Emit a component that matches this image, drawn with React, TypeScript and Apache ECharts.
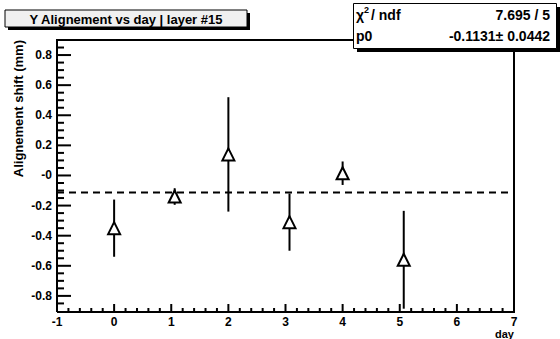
import { useEffect, useRef } from "react";
import * as echarts from "echarts";

// ---- data ----
const days = [0, 1.06, 2, 3.07, 4, 5.07];
const shifts = [-0.35, -0.14, 0.14, -0.31, 0.015, -0.56];
const errors = [0.19, 0.055, 0.38, 0.19, 0.078, 0.325];
const fitP0 = -0.1131;
const fitText = ["7.695 / 5", "-0.1131\u00b1 0.0442"];
const xRange = [-1, 7];
const yRange = [-0.907, 0.9];
const xTickValues = [-1, 0, 1, 2, 3, 4, 5, 6, 7];
const xTickLabels = ["-1", "0", "1", "2", "3", "4", "5", "6", "7"];
const xMinorPerMajor = 5;
const yTickValues = [-0.8, -0.6, -0.4, -0.2, 0, 0.2, 0.4, 0.6, 0.8];
const yTickLabels = ["-0.8", "-0.6", "-0.4", "-0.2", "-0", "0.2", "0.4", "0.6", "0.8"];
const yMinorValues = [
  -0.85, -0.75, -0.7, -0.65, -0.55, -0.5, -0.45, -0.35, -0.3, -0.25, -0.15, -0.1, -0.05,
  0.05, 0.1, 0.15, 0.25, 0.3, 0.35, 0.45, 0.5, 0.55, 0.65, 0.7, 0.75, 0.85,
];

const FONT = "'Liberation Sans', Arial, Helvetica, sans-serif";
const G = { left: 57, top: 40, width: 457, height: 272 };

export default function App() {
  const ref = useRef<HTMLDivElement>(null);
  useEffect(() => {
    if (!ref.current) return;
    const chart = echarts.init(ref.current, undefined, { renderer: "svg" });
    const labelStyle = { color: "#000", fontFamily: FONT, fontWeight: "bold" as const, fontSize: 12 };

    // frame + ticks, built from the axis scales inside the point series
    const axisDecor = (api: any) => {
      const out: any[] = [];
      const bl = api.coord([xRange[0], yRange[0]]);
      const tr = api.coord([xRange[1], yRange[1]]);
      out.push({
        type: "polyline",
        shape: { points: [[bl[0], bl[1]], [bl[0], tr[1]], [tr[0], tr[1]], [tr[0], bl[1]], [bl[0], bl[1]]] },
        style: { fill: "none", stroke: "#000", lineWidth: 2 },
      });
      const addX = (v: number, len: number) => {
        const p = api.coord([v, yRange[0]]);
        out.push({ type: "line", shape: { x1: p[0], y1: p[1], x2: p[0], y2: p[1] - len }, style: { stroke: "#000", lineWidth: 2 } });
      };
      const addY = (v: number, len: number) => {
        const p = api.coord([xRange[0], v]);
        out.push({ type: "line", shape: { x1: p[0], y1: p[1], x2: p[0] + len, y2: p[1] }, style: { stroke: "#000", lineWidth: 2 } });
      };
      xTickValues.forEach((v, i) => {
        addX(v, 8);
        if (i < xTickValues.length - 1) {
          const step = (xTickValues[i + 1] - v) / xMinorPerMajor;
          for (let k = 1; k < xMinorPerMajor; k++) addX(v + k * step, 4);
        }
      });
      yTickValues.forEach((v) => addY(v, 14));
      yMinorValues.forEach((v) => addY(v, 7));
      return out;
    };

    chart.setOption({
      animation: false,
      backgroundColor: "#fff",
      grid: { ...G, show: true, borderColor: "#000", borderWidth: 1, backgroundColor: "transparent" },
      xAxis: {
        type: "value",
        min: xRange[0],
        max: xRange[1],
        interval: 1,
        axisLine: { show: false },
        axisTick: { show: false },
        minorTick: { show: false },
        splitLine: { show: false },
        axisLabel: {
          ...labelStyle,
          margin: 4,
          formatter: (v: number) => xTickLabels[xTickValues.indexOf(Math.round(v))] ?? "",
        },
      },
      yAxis: {
        type: "value",
        min: yRange[0],
        max: yRange[1],
        axisLine: { show: false },
        axisTick: { show: false },
        splitLine: { show: false },
        axisLabel: {
          ...labelStyle,
          margin: 5,
          customValues: yTickValues,
          formatter: (v: number) => {
            let best = 0;
            yTickValues.forEach((t, i) => {
              if (Math.abs(t - v) < Math.abs(yTickValues[best] - v)) best = i;
            });
            return yTickLabels[best];
          },
        },
      },
      series: [
        {
          type: "line",
          data: [[xRange[0], fitP0], [xRange[1], fitP0]],
          showSymbol: false,
          symbol: "none",
          lineStyle: { color: "#000", width: 2, type: [7, 5] },
          z: 2,
        },
        {
          type: "custom",
          data: days.map((d, i) => [d, shifts[i], errors[i]]),
          encode: { x: 0, y: 1 },
          z: 3,
          renderItem: (params: any, api: any) => {
            const x = api.value(0);
            const y = api.value(1);
            const e = api.value(2);
            const c = api.coord([x, y]);
            const t = api.coord([x, y + e]);
            const b = api.coord([x, y - e]);
            const s = 6;
            const children: any[] = [
              {
                type: "line",
                shape: { x1: c[0], y1: t[1], x2: c[0], y2: b[1] },
                style: { stroke: "#000", lineWidth: 2 },
              },
              {
                type: "polygon",
                shape: { points: [[c[0], c[1] - s], [c[0] - s, c[1] + s], [c[0] + s, c[1] + s]] },
                style: { fill: "#fff", stroke: "#000", lineWidth: 2 },
              },
            ];
            if (params.dataIndex === 0) children.push(...axisDecor(api));
            return { type: "group", children };
          },
        },
      ],
      graphic: [
        // title box
        { type: "rect", shape: { x: 8, y: 13, width: 242, height: 17 }, style: { fill: "#000" }, z: 10 },
        { type: "rect", shape: { x: 5, y: 10, width: 242, height: 17 }, style: { fill: "#f0f0f0", stroke: "#000", lineWidth: 1 }, z: 11 },
        {
          type: "text", x: 126, y: 19, z: 12,
          style: { text: "Y Alignement vs day | layer #15", fill: "#000", font: `bold 13px ${FONT}`, align: "center", verticalAlign: "middle" },
        },
        // stats box
        { type: "rect", shape: { x: 357, y: 7, width: 203, height: 45 }, style: { fill: "#000" }, z: 30 },
        { type: "rect", shape: { x: 353.5, y: 3.5, width: 203, height: 45 }, style: { fill: "#fff", stroke: "#000", lineWidth: 1 }, z: 31 },
        {
          type: "text", x: 356, y: 15, z: 32,
          style: { text: "\u03c7", fill: "#000", font: `bold 14px ${FONT}`, align: "left", verticalAlign: "middle" },
        },
        {
          type: "text", x: 364, y: 10, z: 32,
          style: { text: "2", fill: "#000", font: `bold 9px ${FONT}`, align: "left", verticalAlign: "middle" },
        },
        {
          type: "text", x: 371, y: 15, z: 32,
          style: { text: "/ ndf", fill: "#000", font: `bold 14px ${FONT}`, align: "left", verticalAlign: "middle" },
        },
        {
          type: "text", x: 550, y: 15, z: 32,
          style: { text: fitText[0], fill: "#000", font: `bold 14px ${FONT}`, align: "right", verticalAlign: "middle" },
        },
        {
          type: "text", x: 356, y: 36, z: 32,
          style: { text: "p0", fill: "#000", font: `bold 14px ${FONT}`, align: "left", verticalAlign: "middle" },
        },
        {
          type: "text", x: 550, y: 36, z: 32,
          style: { text: fitText[1], fill: "#000", font: `bold 14px ${FONT}`, align: "right", verticalAlign: "middle" },
        },
        // axis titles
        {
          type: "text", x: 18, y: 40, rotation: Math.PI / 2, z: 12,
          style: { text: "Alignement shift (mm)", fill: "#000", font: `bold 13px ${FONT}`, align: "right", verticalAlign: "middle" },
        },
        {
          type: "text", x: 514, y: 334, z: 12,
          style: { text: "day", fill: "#000", font: `bold 11px ${FONT}`, align: "right", verticalAlign: "middle" },
        },
      ],
    });
    return () => chart.dispose();
  }, []);
  return <div ref={ref} style={{ position: "fixed", left: 0, top: 0, width: 560, height: 339 }} />;
}
